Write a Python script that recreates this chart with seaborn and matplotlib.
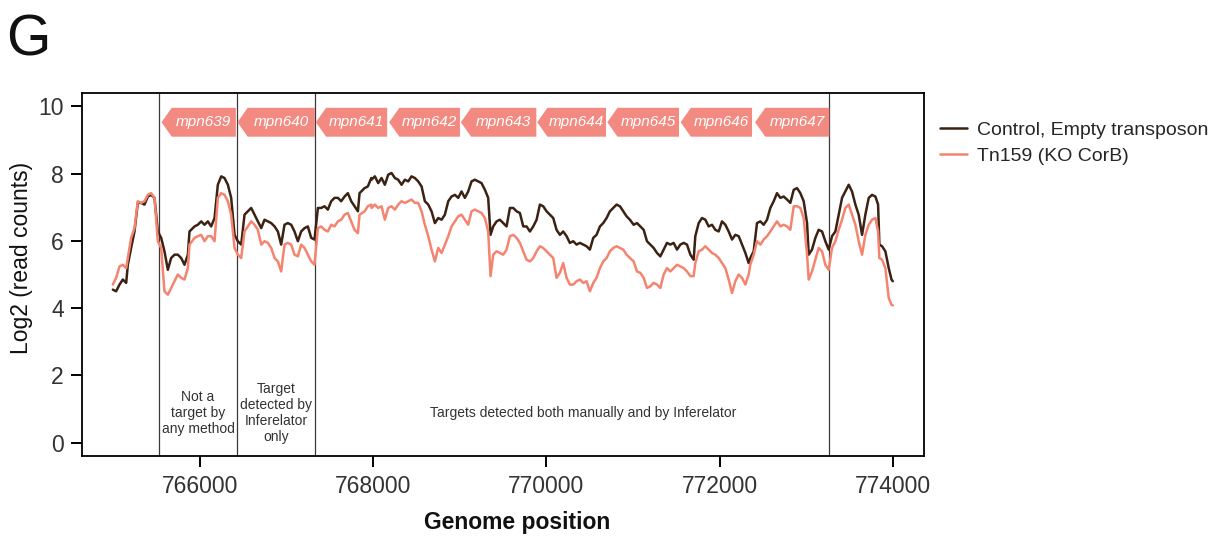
import matplotlib
matplotlib.use("Agg")
import matplotlib.pyplot as plt
from matplotlib.patches import Polygon
import numpy as np
import pandas as pd
import seaborn as sns

# Read-count profiles (log2) along the genome
position_bp = [
    764996, 765034, 765073, 765111, 765150, 765169, 765207, 765246, 765284, 765323,
    765361, 765400, 765438, 765477, 765515, 765554, 765592, 765631, 765669, 765708,
    765746, 765785, 765823, 765862, 765881,
    765939, 765977, 766016, 766054, 766093, 766131, 766170, 766208, 766247, 766285,
    766324, 766362, 766401, 766439, 766478, 766516, 766555, 766593, 766632, 766670,
    766709, 766747, 766786, 766824, 766863, 766901, 766939, 766978, 767016, 767055,
    767093, 767132, 767170, 767209, 767247, 767286, 767324, 767363, 767401, 767440,
    767478, 767517, 767555, 767594, 767632, 767671, 767709, 767748, 767786, 767825,
    767844, 767902, 767940, 767979,
    767982, 768021, 768059, 768098, 768136, 768175, 768213, 768252, 768290, 768329,
    768367, 768406, 768444, 768483, 768521, 768560, 768598, 768637, 768675, 768714,
    768752, 768791, 768829, 768868, 768906, 768945, 768983, 769021, 769060, 769098,
    769137, 769175, 769214, 769252, 769291, 769329,
    769356,
    769387, 769426, 769464, 769503, 769541, 769580, 769618, 769657, 769695, 769734,
    769772, 769811, 769849, 769888, 769926, 769964, 770003, 770041, 770080, 770118,
    770157, 770195, 770234, 770272, 770311, 770349, 770388, 770426, 770465, 770503,
    770542, 770580, 770619, 770657, 770696, 770734, 770773, 770811, 770850, 770888,
    770927, 770965,
    771008, 771047, 771085, 771124, 771162, 771201, 771239, 771278, 771316, 771355,
    771393, 771432, 771470, 771509, 771547, 771586, 771624, 771663, 771701,
    771720,
    771759, 771797, 771836, 771874, 771913, 771951, 771990, 772028, 772067, 772105,
    772144, 772182, 772221, 772259, 772298, 772336,
    772355,
    772394, 772432, 772471, 772509, 772548, 772586, 772625, 772663, 772702, 772740,
    772779, 772817, 772856, 772894, 772933, 772971, 773010,
    773029,
    773067, 773106, 773144, 773183, 773221, 773260, 773298, 773337, 773375, 773414,
    773452, 773491, 773529, 773568, 773606, 773645, 773683, 773722, 773760, 773799,
    773830, 773845, 773876, 773914, 773953, 773985, 774000,
]

control_log2 = [
    4.55, 4.50, 4.70, 4.85, 4.75, 5.29, 5.79, 6.28, 7.13, 7.13,
    7.08, 7.32, 7.37, 7.28, 6.28, 6.09, 5.69, 5.14, 5.49, 5.59,
    5.59, 5.49, 5.29, 5.59, 6.28,
    6.43, 6.48, 6.58, 6.48, 6.58, 6.43, 6.68, 7.67, 7.92, 7.87,
    7.67, 7.28, 6.18, 5.99, 5.89, 6.78, 6.88, 6.98, 6.78, 6.58,
    6.38, 6.63, 6.58, 6.53, 6.43, 6.28, 5.89, 6.48, 6.53, 6.48,
    6.28, 5.99, 6.28, 6.38, 6.43, 6.09, 6.04, 6.98, 6.98, 7.03,
    6.93, 7.18, 7.28, 7.28, 7.18, 7.32, 7.42, 7.18, 7.03, 6.88,
    7.42, 7.57, 7.62, 7.87,
    7.82, 7.92, 7.72, 7.87, 7.67, 7.97, 8.02, 7.87, 7.82, 7.67,
    7.82, 7.77, 7.92, 7.87, 7.77, 7.62, 7.18, 7.08, 6.88, 6.53,
    6.68, 6.63, 6.78, 7.18, 7.32, 7.37, 7.28, 7.47, 7.28, 7.47,
    7.77, 7.82, 7.77, 7.72, 7.52, 7.28,
    6.18,
    6.43, 6.58, 6.63, 6.53, 6.43, 6.98, 6.98, 6.88, 6.83, 6.43,
    6.43, 6.28, 6.43, 6.63, 7.08, 7.03, 6.88, 6.78, 6.68, 6.33,
    6.18, 6.28, 6.14, 5.94, 5.99, 5.89, 5.94, 5.89, 5.84, 5.74,
    6.09, 6.18, 6.43, 6.53, 6.68, 6.88, 6.98, 7.08, 7.03, 6.88,
    6.73, 6.63,
    6.48, 6.53, 6.43, 6.33, 5.99, 5.89, 5.79, 5.64, 5.54, 5.74,
    5.94, 5.89, 5.94, 5.74, 5.89, 5.94, 5.89, 5.59, 5.44,
    6.14,
    6.53, 6.68, 6.63, 6.43, 6.48, 6.33, 6.28, 6.58, 6.48, 6.28,
    6.04, 6.18, 6.14, 5.89, 5.64, 5.34,
    5.49,
    5.69, 6.53, 6.58, 6.48, 6.63, 6.98, 7.18, 7.42, 7.28, 7.32,
    7.23, 7.13, 7.52, 7.57, 7.42, 7.18, 6.53,
    5.59,
    5.74, 6.09, 6.33, 6.28, 5.99, 5.74, 6.14, 6.28, 6.78, 7.28,
    7.47, 7.67, 7.47, 7.08, 6.78, 6.18, 6.78, 7.28, 7.37, 7.32,
    7.08, 5.89, 5.84, 5.69, 5.19, 4.85, 4.80,
]

tn159_log2 = [
    4.70, 4.90, 5.24, 5.29, 5.19, 5.49, 6.09, 6.38, 7.18, 7.13,
    7.18, 7.37, 7.42, 7.28, 5.99, 5.79, 4.50, 4.40, 4.60, 4.80,
    5.00, 4.90, 4.85, 5.19, 5.89,
    6.09, 6.14, 6.18, 5.99, 6.14, 6.14, 5.99, 7.28, 7.42, 7.37,
    7.18, 6.78, 5.79, 5.59, 5.49, 6.28, 6.43, 6.58, 6.48, 6.33,
    5.89, 5.99, 5.94, 5.79, 5.49, 5.39, 5.09, 5.89, 5.94, 5.89,
    5.59, 5.54, 5.89, 5.79, 5.59, 5.39, 5.29, 6.38, 6.43, 6.33,
    6.28, 6.48, 6.43, 6.58, 6.63, 6.78, 6.83, 6.58, 6.33, 6.23,
    6.78, 6.88, 7.03, 7.08,
    6.98, 7.08, 6.98, 7.03, 6.63, 6.98, 7.03, 6.93, 7.08, 7.18,
    7.13, 7.18, 7.23, 7.13, 7.13, 6.88, 6.48, 6.14, 5.74, 5.39,
    5.79, 5.64, 5.89, 6.14, 6.43, 6.58, 6.73, 6.78, 6.63, 6.48,
    6.88, 6.93, 6.88, 6.83, 6.68, 6.28,
    4.95,
    5.59, 5.69, 5.64, 5.59, 5.74, 6.14, 6.18, 6.09, 5.94, 5.69,
    5.44, 5.39, 5.49, 5.69, 5.84, 5.79, 5.69, 5.59, 5.49, 4.90,
    5.05, 5.34, 4.90, 4.70, 4.70, 4.80, 4.85, 4.75, 4.80, 4.50,
    4.75, 4.90, 5.19, 5.39, 5.49, 5.69, 5.79, 5.84, 5.79, 5.74,
    5.59, 5.49,
    5.39, 5.09, 5.05, 4.90, 4.60, 4.65, 4.75, 4.70, 4.60, 5.00,
    5.19, 5.09, 5.19, 5.29, 5.24, 5.19, 5.09, 4.95, 4.95,
    5.34,
    5.69, 5.74, 5.84, 5.74, 5.64, 5.59, 5.49, 5.34, 5.19, 4.85,
    4.45, 4.80, 5.00, 4.90, 4.70, 5.00,
    5.29,
    5.59, 5.99, 5.89, 6.04, 6.14, 6.28, 6.43, 6.58, 6.43, 6.48,
    6.43, 6.33, 7.03, 7.03, 6.98, 6.68, 5.59,
    4.85,
    5.09, 5.44, 5.79, 5.69, 5.29, 5.14, 5.79, 5.99, 6.33, 6.63,
    6.98, 7.08, 6.78, 6.48, 5.99, 5.59, 6.18, 6.48, 6.63, 6.68,
    6.28, 5.49, 5.44, 5.19, 4.30, 4.10, 4.08,
]

sample_names = ["Control, Empty transposon", "Tn159 (KO CorB)"]
sample_colors = ["#3b2213", "#f4846f"]

# Genes (all on the reverse strand: arrow tip at the start coordinate)
gene_names = ["mpn639", "mpn640", "mpn641", "mpn642", "mpn643",
              "mpn644", "mpn645", "mpn646", "mpn647"]
gene_tip = [765558, 766435, 767340, 768186, 769014, 769895, 770704, 771551, 772410]
gene_end = [766416, 767328, 768163, 769003, 769885, 770689, 771532, 772375, 773267]
gene_color = "#f38a81"

# Region boundaries and their annotations
region_edges = [765529, 766431, 767328, 773267]
region_labels = ["Not a\ntarget by\nany method",
                 "Target\ndetected by\nInferelator\nonly",
                 "Targets detected both manually and by Inferelator"]
region_label_x = [765980, 766880, 770420]
region_label_y = 0.88

x_ticks = [766000, 768000, 770000, 772000, 774000]
y_ticks = [0, 2, 4, 6, 8, 10]

sns.set_theme(style="ticks")
plt.rcParams["font.family"] = ["Liberation Sans", "DejaVu Sans"]

df = pd.DataFrame({
    "position": position_bp * 2,
    "log2": control_log2 + tn159_log2,
    "sample": [sample_names[0]] * len(position_bp) + [sample_names[1]] * len(position_bp),
})

fig = plt.figure(figsize=(12.3, 5.39), dpi=100)
ax = fig.add_axes([82 / 1230, 83 / 539, 842 / 1230, 363 / 539])

sns.lineplot(data=df, x="position", y="log2", hue="sample",
             hue_order=sample_names, palette=sample_colors,
             estimator=None, sort=False, linewidth=1.8, ax=ax)

ax.set_xlim(764640, 774360)
ax.set_ylim(-0.4, 10.4)
ax.set_xticks(x_ticks)
ax.set_xticklabels([str(v) for v in x_ticks])
ax.set_yticks(y_ticks)
ax.set_yticklabels([str(v) for v in y_ticks])
ax.set_xlabel("")
ax.set_ylabel("")

for s in ax.spines.values():
    s.set_visible(True)
    s.set_linewidth(1.3)
    s.set_color("black")
ax.tick_params(axis="both", length=8, width=1.4, color="black",
               labelsize=16.5, labelcolor="#333333")
ax.tick_params(axis="y", pad=5)
ax.tick_params(axis="x", pad=6)

for e in region_edges:
    ax.axvline(e, color="#3a3a3a", lw=0.9, zorder=1)

# gene arrows
y_lo, y_hi = 9.10, 9.96
y_mid = (y_lo + y_hi) / 2
head = 118
for name, tip, end in zip(gene_names, gene_tip, gene_end):
    poly = Polygon([(tip, y_mid), (tip + head, y_hi), (end, y_hi),
                    (end, y_lo), (tip + head, y_lo)], closed=True,
                   facecolor=gene_color, edgecolor="none", zorder=3)
    ax.add_patch(poly)
    ax.text((tip + head + end) / 2, y_mid, name, ha="center", va="center",
            color="white", fontsize=11, fontstyle="italic", zorder=4)

for lab, xc in zip(region_labels, region_label_x):
    ax.text(xc, region_label_y, lab, ha="center", va="center",
            fontsize=10, color="#333333", linespacing=1.2)

# legend outside the plotting region
handles, labels = ax.get_legend_handles_labels()
ax.get_legend().remove()
fig.legend(handles, labels, loc="upper left", bbox_to_anchor=(940 / 1230, 1 - 121 / 539),
           frameon=False, fontsize=14, handlelength=1.4, handletextpad=0.5,
           labelspacing=0.45, borderaxespad=0, borderpad=0)

fig.text(22 / 1230, 1 - 258 / 539, "Log2 (read counts)", rotation=90,
         ha="center", va="center", fontsize=16.5, color="#111111")
fig.text(517 / 1230, 1 - 522 / 539, "Genome position", ha="center", va="center",
         fontsize=16.5, fontweight="bold", color="#111111")
fig.text(6 / 1230, 1 - 55 / 539, "G", ha="left", va="baseline",
         fontsize=41, color="#111111")

fig.savefig("out.png", dpi=100)
